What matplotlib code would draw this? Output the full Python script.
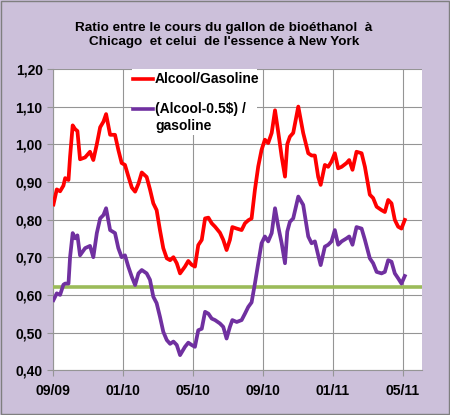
import matplotlib
matplotlib.use("Agg")
import matplotlib.pyplot as plt
from matplotlib.lines import Line2D
from matplotlib.patches import Rectangle

# months elapsed since early September 2009
months = [0.02, 0.21, 0.40, 0.59, 0.69, 0.88, 0.97, 1.12, 1.26, 1.39,
          1.54, 1.83, 2.11, 2.30, 2.50, 2.69, 2.88, 3.03, 3.26, 3.54,
          3.73, 3.92, 4.11, 4.30, 4.50, 4.69, 4.88, 5.07, 5.35, 5.54,
          5.73, 5.92, 6.11, 6.30, 6.50, 6.69, 6.88, 7.07, 7.26, 7.54,
          7.73, 7.92, 8.11, 8.30, 8.50, 8.69, 8.88, 9.07, 9.26, 9.54,
          9.73, 9.92, 10.11, 10.25, 10.50, 10.78, 10.97, 11.16, 11.35, 11.54,
          11.73, 11.92, 12.11, 12.30, 12.50, 12.69, 12.88, 13.07, 13.26, 13.39,
          13.54, 13.73, 14.02, 14.30, 14.59, 14.78, 14.97, 15.16, 15.30, 15.54,
          15.73, 15.92, 16.11, 16.30, 16.50, 16.78, 16.93, 17.12, 17.35, 17.64,
          17.83, 18.11, 18.30, 18.50, 18.78, 18.97, 19.16, 19.35, 19.54, 19.73,
          19.92, 20.11]

alcool_gasoline = [0.84, 0.88, 0.875, 0.89, 0.91, 0.905, 0.967, 1.05, 1.04, 1.035,
                   0.96, 0.965, 0.98, 0.958, 1.00, 1.045, 1.06, 1.08, 1.025, 1.025,
                   0.985, 0.95, 0.945, 0.915, 0.885, 0.874, 0.895, 0.925, 0.913, 0.88,
                   0.843, 0.825, 0.772, 0.724, 0.697, 0.692, 0.70, 0.684, 0.657, 0.675,
                   0.69, 0.68, 0.675, 0.732, 0.746, 0.803, 0.805, 0.79, 0.781, 0.765,
                   0.746, 0.719, 0.746, 0.78, 0.776, 0.772, 0.79, 0.798, 0.803, 0.879,
                   0.941, 0.985, 1.012, 1.003, 1.03, 1.09, 1.03, 0.967, 0.914, 1.00,
                   1.02, 1.03, 1.10, 1.03, 0.976, 0.97, 0.97, 0.913, 0.892, 0.945,
                   0.94, 0.954, 0.976, 0.936, 0.94, 0.95, 0.958, 0.932, 0.98, 0.976,
                   0.94, 0.866, 0.857, 0.834, 0.825, 0.82, 0.852, 0.843, 0.799, 0.781,
                   0.776, 0.799]

alcool_minus = [0.586, 0.604, 0.60, 0.627, 0.63, 0.63, 0.70, 0.764, 0.75, 0.758,
                0.705, 0.724, 0.73, 0.70, 0.764, 0.803, 0.812, 0.83, 0.772, 0.764,
                0.724, 0.70, 0.705, 0.675, 0.648, 0.626, 0.657, 0.666, 0.657, 0.64,
                0.595, 0.578, 0.542, 0.502, 0.48, 0.47, 0.476, 0.467, 0.44, 0.462,
                0.473, 0.467, 0.462, 0.506, 0.51, 0.555, 0.55, 0.537, 0.533, 0.524,
                0.515, 0.484, 0.515, 0.533, 0.528, 0.533, 0.55, 0.568, 0.58, 0.63,
                0.684, 0.737, 0.755, 0.742, 0.764, 0.83, 0.78, 0.737, 0.684, 0.768,
                0.794, 0.803, 0.861, 0.839, 0.755, 0.737, 0.742, 0.705, 0.679, 0.728,
                0.733, 0.742, 0.772, 0.733, 0.742, 0.75, 0.755, 0.733, 0.78, 0.776,
                0.746, 0.697, 0.684, 0.661, 0.657, 0.661, 0.692, 0.688, 0.657, 0.644,
                0.63, 0.65]

threshold = 0.62

tick_months = [0, 4, 8, 12, 16, 20]
tick_labels = ["09/09", "01/10", "05/10", "09/10", "01/11", "05/11"]
y_ticks = [0.40, 0.50, 0.60, 0.70, 0.80, 0.90, 1.00, 1.10, 1.20]

bg = "#CCC0DA"
red = "#FF0000"
purple = "#7030A0"
green = "#9BBB59"

plt.rcParams["font.family"] = ["Liberation Sans", "DejaVu Sans"]

fig = plt.figure(figsize=(4.5, 4.15), dpi=100, facecolor=bg)
fig.patches.append(Rectangle((0.002, 0.002), 0.996, 0.996, transform=fig.transFigure,
                             fill=False, edgecolor="#7F7F7F", linewidth=1))
ax = fig.add_axes([0.118, 0.108, 0.820, 0.726])
ax.set_facecolor("white")

ax.grid(True, color="#959595", linewidth=0.8)
ax.set_axisbelow(True)

ax.axhline(threshold, color=green, linewidth=2.6, zorder=3)
ax.plot(months, alcool_gasoline, color=red, linewidth=2.7, zorder=4,
        solid_joinstyle="round")
ax.plot(months, alcool_minus, color=purple, linewidth=2.7, zorder=4,
        solid_joinstyle="round")

ax.set_xlim(0, 21.1)
ax.set_ylim(0.40, 1.20)
ax.set_xticks(tick_months)
ax.set_xticklabels(tick_labels)
ax.set_yticks(y_ticks)
ax.set_yticklabels([f"{v:.2f}".replace(".", ",") for v in y_ticks])
ax.tick_params(axis="both", labelsize=10, color="#959595", length=4)
ax.tick_params(axis="x", pad=6)
for lab in ax.get_xticklabels() + ax.get_yticklabels():
    lab.set_fontweight("bold")

for side in ["top", "right"]:
    ax.spines[side].set_visible(False)
for side in ["left", "bottom"]:
    ax.spines[side].set_color("#959595")

# legend block (white box, no frame)
ax.add_patch(Rectangle((0.214, 0.781), 0.339, 0.219, transform=ax.transAxes,
                       facecolor="white", edgecolor="none", zorder=5))
ax.add_line(Line2D([0.217, 0.271], [0.967, 0.967], transform=ax.transAxes,
                   color=red, linewidth=2.6, zorder=6))
ax.add_line(Line2D([0.217, 0.271], [0.866, 0.866], transform=ax.transAxes,
                   color=purple, linewidth=2.6, zorder=6))
ax.text(0.276, 0.967, "Alcool/Gasoline", transform=ax.transAxes, fontsize=10,
        fontweight="bold", va="center", ha="left", zorder=7)
ax.text(0.276, 0.866, "(Alcool-0.5\\$) /", transform=ax.transAxes, fontsize=10,
        fontweight="bold", va="center", ha="left", zorder=7)
ax.text(0.276, 0.810, "gasoline", transform=ax.transAxes, fontsize=10,
        fontweight="bold", va="center", ha="left", zorder=7)

fig.text(0.498, 0.915, "Ratio entre le cours du gallon de bioéthanol  à\nChicago  et celui  de l'essence à New York",
         ha="center", va="center", fontsize=9.7, fontweight="bold", linespacing=1.2)

fig.savefig("out.png", dpi=100, facecolor=bg)
